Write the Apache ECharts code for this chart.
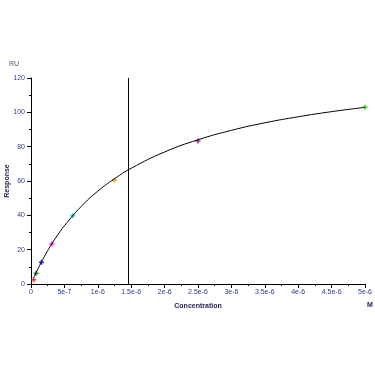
<!DOCTYPE html>
<html><head><meta charset="utf-8">
<script src="https://cdn.jsdelivr.net/npm/echarts@6/dist/echarts.min.js"></script>
<style>html,body{margin:0;padding:0;background:#fff}#c{width:375px;height:375px}</style>
</head><body><div id="c"></div>
<script>
// Measured points (concentration M, response RU)
const concentrations = [3.9e-8, 7.8e-8, 1.5625e-7, 3.125e-7, 6.25e-7, 1.25e-6, 2.5e-6, 5e-6];
const responses = [2.5, 6.2, 12.6, 23.3, 39.8, 60.5, 83.3, 103.0];
const pointColors = ['#ff0000', '#1e6b1e', '#0000ff', '#ff00ff', '#00cccc', '#e6a000', '#990099', '#22cc22'];
// Fitted curve
const fitX = [0.039e-6, 0.1e-6, 0.2e-6, 0.3e-6, 0.4e-6, 0.5e-6, 0.75e-6, 1e-6, 1.25e-6, 1.5e-6, 2e-6, 2.5e-6, 3e-6, 3.5e-6, 4e-6, 4.5e-6, 5e-6];
const fitY = [3.5, 8.5, 16.0, 22.7, 28.6, 33.9, 45.1, 54.1, 61.3, 67.4, 76.9, 84.0, 89.5, 93.9, 97.4, 100.4, 102.9];
// Vertical marker line (KD)
const kdLineX = [1.46e-6, 1.46e-6];
const kdLineY = [0, 120];
const xTickLabels = ['0', '5e-7', '1e-6', '1.5e-6', '2e-6', '2.5e-6', '3e-6', '3.5e-6', '4e-6', '4.5e-6', '5e-6'];
const yTickLabels = ['0', '20', '40', '60', '80', '100', '120'];

const chart = echarts.init(document.getElementById('c'));
const plusPath = 'path://M2,0L4,0L4,2L6,2L6,4L4,4L4,6L2,6L2,4L0,4L0,2L2,2Z';
const labelColor = '#2e3b8f';
const font = 'Liberation Sans, Arial, sans-serif';
chart.setOption({
  animation: false,
  grid: {left: 31, right: 10, top: 78, bottom: 91, containLabel: false, outerBoundsMode: 'none'},
  xAxis: {
    type: 'value', min: 0, max: 5e-6, interval: 5e-7,
    axisLine: {lineStyle: {color: '#000', width: 1}},
    axisTick: {show: true, length: 4, lineStyle: {color: '#000'}},
    minorTick: {show: true, splitNumber: 2, length: 2, lineStyle: {color: '#000'}},
    splitLine: {show: false},
    axisLabel: {fontSize: 7, color: labelColor, fontFamily: font, margin: 5,
      formatter: (v) => xTickLabels[Math.round(v / 5e-7)]},
    name: 'Concentration', nameLocation: 'middle', nameGap: 19,
    nameTextStyle: {fontSize: 7, fontWeight: 'bold', color: '#1c1c50', fontFamily: font}
  },
  yAxis: {
    type: 'value', min: 0, max: 120, interval: 20,
    axisLine: {show: true, lineStyle: {color: '#000', width: 1}},
    axisTick: {show: true, length: 4, lineStyle: {color: '#000'}},
    minorTick: {show: true, splitNumber: 2, length: 2, lineStyle: {color: '#000'}},
    splitLine: {show: false},
    axisLabel: {fontSize: 7, color: labelColor, fontFamily: font, margin: 6,
      formatter: (v) => yTickLabels[Math.round(v / 20)]}
  },
  graphic: [
    {type: 'text', left: 9, top: 61, style: {text: 'RU', fontSize: 7, fill: '#5a4a7a', fontFamily: font}},
    {type: 'text', left: 367, top: 302, style: {text: 'M', fontSize: 7, fill: '#1c1c50', fontWeight: 'bold', fontFamily: font}},
    {type: 'text', x: 7, y: 181, rotation: Math.PI / 2,
      style: {text: 'Response', fontSize: 7, fontWeight: 'bold', fill: '#1c1c50', fontFamily: font,
        align: 'center', verticalAlign: 'middle'}}
  ],
  series: [
    {
      type: 'line', showSymbol: false, silent: true,
      data: kdLineX.map((x, i) => [x, kdLineY[i]]),
      lineStyle: {color: '#000', width: 1}
    },
    {
      type: 'line', smooth: true, showSymbol: false, silent: true,
      data: fitX.map((x, i) => [x, fitY[i]]),
      lineStyle: {color: '#000', width: 1}
    },
    {
      type: 'scatter', symbol: plusPath, symbolSize: 5,
      data: concentrations.map((x, i) => ({value: [x, responses[i]], itemStyle: {color: pointColors[i]}}))
    }
  ]
});
</script></body></html>
